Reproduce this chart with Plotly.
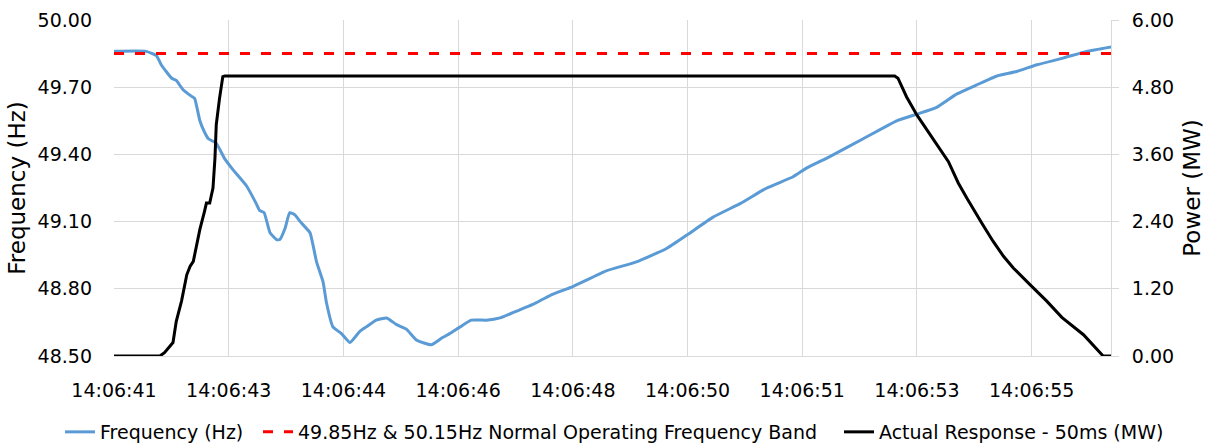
import plotly.graph_objects as go

# Time axis: seconds after the start of the record (14:06:41.3)
tick_labels = ["14:06:41", "14:06:43", "14:06:44", "14:06:46", "14:06:48",
               "14:06:50", "14:06:51", "14:06:53", "14:06:55"]
tick_step_s = 1.75
record_end_s = 15.21

# Measured system frequency (Hz)
freq_t = [0.00, 0.49, 0.65, 0.72, 0.88, 0.95, 1.05, 1.18, 1.23, 1.31, 1.38, 1.44,
          1.56, 1.69, 1.82, 2.02, 2.17, 2.22, 2.29, 2.38, 2.48, 2.53, 2.61, 2.68,
          2.76, 2.84, 2.99, 3.09, 3.19, 3.24, 3.34, 3.47, 3.60, 3.75, 3.85, 4.00,
          4.16, 4.31, 4.46, 4.62, 4.84, 5.00, 5.12, 5.28, 5.45, 5.68, 5.89, 6.14,
          6.39, 6.65, 7.00, 7.51, 7.97, 8.43, 8.74, 9.14, 9.55, 9.96, 10.36, 10.57,
          10.92, 11.43, 11.94, 12.25, 12.55, 12.86, 13.16, 13.47, 13.77, 14.08,
          14.48, 14.84, 15.21]
freq_hz = [49.86, 49.86, 49.84, 49.80, 49.74, 49.73, 49.69, 49.66, 49.65, 49.55,
           49.50, 49.47, 49.45, 49.38, 49.33, 49.26, 49.18, 49.15, 49.14, 49.05,
           49.02, 49.02, 49.07, 49.14, 49.13, 49.10, 49.05, 48.92, 48.83, 48.74,
           48.63, 48.60, 48.56, 48.61, 48.63, 48.66, 48.67, 48.64, 48.62, 48.57,
           48.55, 48.58, 48.60, 48.63, 48.66, 48.66, 48.67, 48.70, 48.73, 48.77,
           48.81, 48.88, 48.92, 48.98, 49.04, 49.12, 49.18, 49.25, 49.30, 49.34,
           49.39, 49.47, 49.55, 49.58, 49.61, 49.67, 49.71, 49.75, 49.77, 49.80,
           49.83, 49.86, 49.88]

# Lower limit of the normal operating band (Hz)
band_low_hz = 49.85

# Delivered power, 50 ms resolution (MW)
power_t = [0.00, 0.70, 0.77, 0.85, 0.90, 0.95, 1.03, 1.11, 1.16, 1.21, 1.26, 1.31,
           1.38, 1.41, 1.46, 1.51, 1.54, 1.56, 1.61, 1.66, 1.69, 11.91, 11.96,
           12.09, 12.25, 12.45, 12.73, 12.88, 13.01, 13.24, 13.41, 13.57, 13.72,
           13.97, 14.23, 14.46, 14.79, 15.09, 15.21]
power_mw = [0.00, 0.00, 0.06, 0.18, 0.24, 0.62, 0.98, 1.45, 1.60, 1.69, 1.99, 2.26,
            2.58, 2.73, 2.73, 3.00, 3.53, 4.13, 4.60, 4.99, 5.00, 5.00, 4.96,
            4.63, 4.30, 3.95, 3.47, 3.09, 2.82, 2.37, 2.05, 1.78, 1.57, 1.28,
            0.98, 0.69, 0.38, 0.00, 0.00]

W, H = 1211, 445
FONT = "DejaVu Sans"
FS = 19
GRID = "#d9d9d9"

fig = go.Figure()

fig.add_trace(go.Scatter(
    x=freq_t, y=freq_hz, mode="lines", name="Frequency (Hz)",
    line=dict(color="#5b9bd5", width=3, shape="spline", smoothing=0.4),
    legend="legend",
))
fig.add_trace(go.Scatter(
    x=[0, record_end_s], y=[band_low_hz, band_low_hz], mode="lines",
    name="49.85Hz & 50.15Hz Normal Operating Frequency Band",
    line=dict(color="#ff0000", width=3, dash="10px,11px"), legend="legend2",
))
fig.add_trace(go.Scatter(
    x=power_t, y=power_mw, mode="lines", name="Actual Response - 50ms (MW)",
    line=dict(color="#000000", width=3), yaxis="y2", legend="legend3",
))

tick_vals = [i * tick_step_s for i in range(len(tick_labels))]


def legend_box(left_px):
    return dict(orientation="h", xref="container", yref="container",
                x=left_px / W, xanchor="left", y=1 - 432 / H, yanchor="middle",
                font=dict(family=FONT, size=FS, color="#000000"),
                bgcolor="rgba(0,0,0,0)", borderwidth=0)


fig.update_layout(
    width=W, height=H,
    margin=dict(l=114, r=100, t=20, b=89, autoexpand=False),
    paper_bgcolor="white", plot_bgcolor="white",
    font=dict(family=FONT, size=FS, color="#000000"),
    showlegend=True,
    legend=legend_box(60),
    legend2=legend_box(258),
    legend3=legend_box(839),
    xaxis=dict(range=[0, record_end_s], tickvals=tick_vals, ticktext=tick_labels,
               showgrid=True, gridcolor=GRID, gridwidth=1,
               showline=True, linecolor=GRID, linewidth=1,
               ticks="", ticklabelstandoff=17, zeroline=False),
    yaxis=dict(range=[48.5, 50.0], tickvals=[48.5, 48.8, 49.1, 49.4, 49.7, 50.0],
               tickformat=".2f", showgrid=True, gridcolor=GRID, gridwidth=1,
               ticks="", ticklabelstandoff=21, zeroline=False,
               title=dict(text="Frequency (Hz)", standoff=5)),
    yaxis2=dict(range=[0, 6.0], tickvals=[0, 1.2, 2.4, 3.6, 4.8, 6.0],
                tickformat=".2f", overlaying="y", side="right", showgrid=False,
                showline=True, linecolor=GRID, linewidth=1,
                ticks="outside", ticklen=7, tickcolor=GRID,
                ticklabelstandoff=9, zeroline=False,
                title=dict(text="Power (MW)", standoff=10)),
)

fig.write_html("out.html")
